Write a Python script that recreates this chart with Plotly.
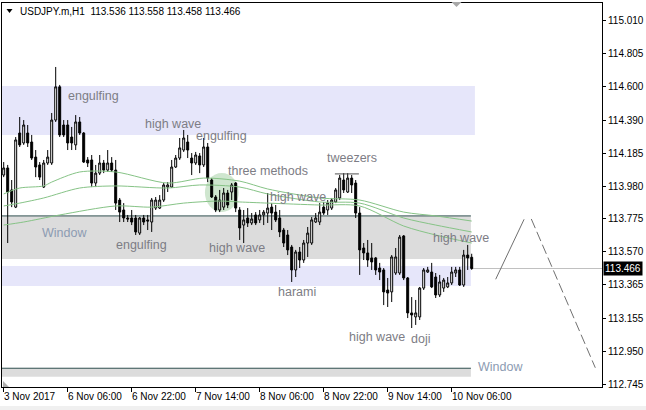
import plotly.graph_objects as go

# ---------------- data ----------------
symbol = "USDJPY.m,H1"

open_ = [114.049, 114.093, 113.956, 113.849, 114.311, 114.249, 114.311, 114.255, 114.161, 114.112,
         113.974, 114.124, 114.124, 114.392, 114.599, 114.361, 114.361, 114.286, 114.237, 114.380,
         114.311, 114.143, 114.143, 113.999, 114.061, 114.124, 114.080, 114.124, 114.080, 113.893,
         113.831, 113.781, 113.781, 113.781, 113.687, 113.781, 113.769, 113.756, 113.843, 113.843,
         113.893, 113.974, 113.974, 114.099, 114.155, 114.205, 114.255, 114.155, 114.124, 114.168,
         114.112, 114.224, 114.018, 113.912, 113.831, 113.849, 113.937, 113.943, 113.999, 113.831,
         113.737, 113.781, 113.750, 113.800, 113.769, 113.800, 113.812, 113.849, 113.818, 113.781,
         113.706, 113.675, 113.600, 113.457, 113.569, 113.519, 113.625, 113.625, 113.756, 113.756,
         113.849, 113.831, 113.843, 113.881, 113.906, 114.018, 113.943, 114.030, 113.999, 113.812,
         113.594, 113.563, 113.532, 113.532, 113.469, 113.457, 113.332, 113.320, 113.438, 113.438,
         113.669, 113.407, 113.189, 113.164, 113.164, 113.344, 113.444, 113.444, 113.413, 113.301,
         113.344, 113.351, 113.376, 113.438, 113.457, 113.363, 113.550, 113.536]
high = [114.130, 114.112, 114.018, 114.286, 114.411, 114.392, 114.361, 114.299, 114.205, 114.130,
        114.143, 114.205, 114.436, 114.723, 114.611, 114.392, 114.392, 114.349, 114.423, 114.411,
        114.317, 114.161, 114.174, 114.112, 114.174, 114.143, 114.205, 114.161, 114.143, 113.906,
        113.874, 113.800, 113.831, 113.800, 113.787, 113.800, 113.800, 113.906, 113.912, 113.924,
        113.999, 114.005, 114.143, 114.174, 114.280, 114.330, 114.299, 114.186, 114.193, 114.186,
        114.280, 114.249, 114.030, 113.924, 113.956, 113.968, 113.956, 113.999, 114.005, 113.849,
        113.831, 113.843, 113.812, 113.818, 113.831, 113.831, 113.937, 113.874, 113.862, 113.831,
        113.719, 113.706, 113.613, 113.582, 113.600, 113.644, 113.725, 113.787, 113.812, 113.874,
        113.881, 113.893, 113.906, 113.968, 114.049, 114.061, 114.061, 114.049, 114.018, 113.849,
        113.625, 113.644, 113.625, 113.538, 113.501, 113.469, 113.407, 113.550, 113.594, 113.675,
        113.675, 113.413, 113.288, 113.270, 113.351, 113.469, 113.476, 113.501, 113.438, 113.426,
        113.407, 113.413, 113.476, 113.476, 113.476, 113.582, 113.613, 113.558]
low = [114.036, 113.625, 113.849, 113.843, 114.224, 114.237, 114.224, 114.143, 114.036, 114.018,
       113.968, 114.112, 114.112, 114.380, 114.286, 114.286, 114.205, 114.205, 114.205, 114.299,
       114.124, 114.099, 113.974, 113.974, 114.049, 114.061, 114.068, 114.068, 113.831, 113.756,
       113.756, 113.756, 113.737, 113.675, 113.675, 113.737, 113.706, 113.694, 113.831, 113.837,
       113.881, 113.943, 113.968, 114.093, 114.143, 114.193, 114.155, 114.049, 114.112, 114.061,
       114.099, 114.005, 113.906, 113.818, 113.818, 113.831, 113.843, 113.893, 113.818, 113.644,
       113.625, 113.725, 113.737, 113.737, 113.750, 113.737, 113.750, 113.706, 113.756, 113.662,
       113.600, 113.550, 113.382, 113.413, 113.469, 113.501, 113.538, 113.613, 113.750, 113.737,
       113.800, 113.800, 113.831, 113.874, 113.893, 113.937, 113.937, 113.937, 113.781, 113.426,
       113.519, 113.476, 113.457, 113.426, 113.394, 113.238, 113.226, 113.257, 113.426, 113.426,
       113.394, 113.157, 113.095, 113.114, 113.145, 113.332, 113.438, 113.344, 113.282, 113.288,
       113.320, 113.344, 113.363, 113.413, 113.357, 113.351, 113.457, 113.458]
close = [114.093, 113.943, 113.881, 114.268, 114.237, 114.361, 114.249, 114.155, 114.099, 114.036,
         114.124, 114.161, 114.392, 114.599, 114.299, 114.299, 114.249, 114.249, 114.380, 114.311,
         114.130, 114.124, 113.999, 114.061, 114.124, 114.080, 114.124, 114.080, 113.874, 113.818,
         113.781, 113.775, 113.756, 113.694, 113.781, 113.756, 113.762, 113.893, 113.893, 113.893,
         113.987, 113.987, 114.099, 114.155, 114.218, 114.280, 114.205, 114.124, 114.174, 114.112,
         114.224, 114.030, 113.912, 113.831, 113.893, 113.937, 113.862, 113.987, 113.843, 113.719,
         113.769, 113.750, 113.775, 113.750, 113.800, 113.818, 113.843, 113.812, 113.769, 113.694,
         113.625, 113.582, 113.457, 113.569, 113.519, 113.625, 113.687, 113.769, 113.781, 113.818,
         113.812, 113.874, 113.893, 113.956, 114.030, 113.956, 114.030, 113.987, 113.812, 113.582,
         113.563, 113.519, 113.507, 113.457, 113.444, 113.320, 113.313, 113.538, 113.538, 113.662,
         113.407, 113.189, 113.176, 113.189, 113.344, 113.457, 113.457, 113.351, 113.301, 113.382,
         113.394, 113.376, 113.444, 113.457, 113.363, 113.550, 113.532, 113.466]
bar_index = list(range(len(open_)))

tick_bars = [0, 16, 32, 48, 64, 80, 96, 112]
tick_text = ["3 Nov 2017", "6 Nov 06:00", "6 Nov 22:00", "7 Nov 14:00",
             "8 Nov 06:00", "8 Nov 22:00", "9 Nov 14:00", "10 Nov 06:00"]
price_ticks = [115.010, 114.805, 114.600, 114.390, 114.185, 113.980,
               113.775, 113.570, 113.365, 113.155, 112.950, 112.745]

# moving-average lines (read at a few bars)
ma1_x = [0, 4, 10, 12, 19, 28, 41, 50, 59, 66, 79, 89, 100, 108, 117]
ma1_y = [113.931, 113.968, 113.981, 114.005, 114.068, 114.068, 113.999, 114.030, 114.011,
         113.962, 113.906, 113.893, 113.818, 113.794, 113.762]
ma2_x = [0, 4, 10, 19, 28, 41, 49, 59, 66, 79, 89, 100, 108, 117]
ma2_y = [113.856, 113.874, 113.906, 113.968, 113.981, 113.968, 113.987, 113.974, 113.931,
         113.881, 113.874, 113.781, 113.737, 113.694]
ma3_x = [0, 5, 14, 28, 37, 45, 54, 59, 66, 79, 89, 100, 108, 117]
ma3_y = [113.737, 113.756, 113.800, 113.856, 113.849, 113.874, 113.887, 113.881, 113.874,
         113.862, 113.856, 113.731, 113.675, 113.625]

# zigzag projection
zz1_x = [123.0, 130.1]
zz1_y = [113.399, 113.773]
zz2_x = [131.9, 147.9]
zz2_y = [113.775, 112.847]

# zones: (x0, x1, y0, y1)
zone_upper = (-5, 117.8, 114.299, 114.605)
zone_window1 = (-5, 116.8, 113.525, 113.794)
zone_lower = (-5, 116.8, 113.357, 113.482)
zone_window2 = (-5, 116.8, 112.791, 112.844)
circle_three = (50.3, 58.75, 113.818, 114.061)
tweezers_line = (82.8, 88.8, 114.056)
current_price = close[-1]

# pattern labels: text, bar position, price
pattern_text = ["engulfing", "high wave", "engulfing", "three methods", "high wave", "tweezers",
                "engulfing", "high wave", "harami", "high wave", "high wave", "doji"]
pattern_x = [15.6, 34.8, 47.6, 55.6, 66.1, 80.3, 27.6, 50.8, 68.1, 106.8, 85.8, 101.3]
pattern_y = [114.542, 114.367, 114.293, 114.074, 113.912, 114.155, 113.613, 113.594,
             113.320, 113.656, 113.039, 113.026]
window_text = ["Window", "Window"]
window_x = [9.1, 118.1]
window_y = [113.688, 112.852]

# ---------------- figure ----------------
FONT = "Liberation Sans, Arial, sans-serif"
L, R, T, B = 2, 44, 3, 23
W, H = 646, 410
PW, PH = W - L - R, H - T - B


def P(px, py):
    return (px - L) / PW, (H - B - py) / PH


fig = go.Figure()

for mx, my in [(ma1_x, ma1_y), (ma2_x, ma2_y), (ma3_x, ma3_y)]:
    fig.add_trace(go.Scatter(x=mx, y=my, mode="lines",
                             line=dict(color="#86c386", width=1, shape="spline", smoothing=0.8),
                             hoverinfo="skip"))

fig.add_trace(go.Candlestick(
    x=bar_index, open=open_, high=high, low=low, close=close,
    increasing=dict(line=dict(color="black", width=1), fillcolor="white"),
    decreasing=dict(line=dict(color="black", width=1), fillcolor="black"),
    whiskerwidth=0, hoverinfo="skip"))

fig.add_trace(go.Scatter(x=zz1_x, y=zz1_y, mode="lines",
                         line=dict(color="#707070", width=1), hoverinfo="skip"))
fig.add_trace(go.Scatter(x=zz2_x, y=zz2_y, mode="lines",
                         line=dict(color="#707070", width=1, dash="10px,4px"), hoverinfo="skip"))

shapes = []
for (x0, x1, y0, y1), col in [(zone_upper, "#E6E6FA"), (zone_window1, "#DCDCDC"),
                              (zone_lower, "#E6E6FA"), (zone_window2, "#DCDCDC")]:
    shapes.append(dict(type="rect", xref="x", yref="y", x0=x0, x1=x1, y0=y0, y1=y1,
                       fillcolor=col, line=dict(width=0), layer="below"))
for z in (zone_window1, zone_window2):
    shapes.append(dict(type="line", xref="x", yref="y", x0=z[0], x1=z[1], y0=z[3], y1=z[3],
                       line=dict(color="#2F4F4F", width=1), layer="below"))
c = circle_three
shapes.append(dict(type="circle", xref="x", yref="y", x0=c[0], x1=c[1], y0=c[2], y1=c[3],
                   fillcolor="#cfe6cf", line=dict(width=0), layer="below"))
shapes.append(dict(type="line", xref="paper", yref="y", x0=0, x1=1, y0=current_price, y1=current_price,
                   line=dict(color="#C0C0C0", width=1), layer="below"))
shapes.append(dict(type="line", xref="x", yref="y", x0=tweezers_line[0], x1=tweezers_line[1],
                   y0=tweezers_line[2], y1=tweezers_line[2], line=dict(color="#505050", width=1)))


def tri(pts, color):
    d = "M " + " L ".join("%.5f %.5f" % P(a, b) for a, b in pts) + " Z"
    return dict(type="path", xref="paper", yref="paper", path=d, fillcolor=color,
                line=dict(width=0))


shapes.append(tri([(6.5, 9), (12.5, 9), (9.5, 13)], "black"))
shapes.append(tri([(451.5, 2), (461.5, 2), (456.5, 7)], "#a8a8a8"))
shapes.append(tri([(3, 381), (3, 387), (9, 387)], "#b0b0b0"))
# window-frame strip at the bottom
shapes.append(dict(type="rect", xref="paper", yref="paper",
                   x0=-L / PW, x1=(W - L) / PW, y0=P(0, 406)[1], y1=P(0, 411)[1],
                   fillcolor="#f0f0f0", line=dict(width=0)))

ann = []
for t, x, y in zip(pattern_text, pattern_x, pattern_y):
    ann.append(dict(x=x, y=y, xref="x", yref="y", text=t, showarrow=False, xanchor="left",
                    yanchor="middle", font=dict(family=FONT, size=12.5, color="#7d7d85")))
for t, x, y in zip(window_text, window_x, window_y):
    ann.append(dict(x=x, y=y, xref="x", yref="y", text=t, showarrow=False, xanchor="left",
                    yanchor="middle", font=dict(family=FONT, size=12.5, color="#8c9bb2")))
for tb, tt in zip(tick_bars, tick_text):
    ann.append(dict(x=tb, y=P(0, 396)[1], xref="x", yref="paper", text=tt, showarrow=False,
                    xanchor="left", yanchor="middle", xshift=-2,
                    font=dict(family=FONT, size=10, color="black")))
header = "%s  %.3f %.3f %.3f %.3f" % (symbol, open_[-1], high[-1], low[-1], close[-1])
ann.append(dict(x=P(18, 0)[0], y=P(0, 11)[1], xref="paper", yref="paper", text=header,
                showarrow=False, xanchor="left", yanchor="middle",
                font=dict(family=FONT, size=10, color="black")))
ann.append(dict(x=1, y=current_price, xref="paper", yref="y", text="%.3f" % current_price,
                showarrow=False, xanchor="left", yanchor="middle", xshift=1,
                bgcolor="black", borderpad=1,
                font=dict(family=FONT, size=10, color="white")))

fig.update_layout(
    width=W, height=H, margin=dict(l=L, r=R, t=T, b=B, autoexpand=False),
    paper_bgcolor="white", plot_bgcolor="white", showlegend=False,
    hovermode=False, shapes=shapes, annotations=ann,
    xaxis=dict(range=[-0.425, 149.575], showgrid=False, zeroline=False,
               showline=True, mirror=True, linecolor="black", linewidth=1,
               ticks="outside", ticklen=4, tickcolor="black", tickvals=tick_bars,
               showticklabels=False, rangeslider=dict(visible=False), automargin=False),
    yaxis=dict(range=[112.727, 115.122], side="right", showgrid=False, zeroline=False,
               showline=True, mirror=True, linecolor="black", linewidth=1,
               ticks="outside", ticklen=3, tickcolor="black", tickvals=price_ticks,
               ticktext=["%.3f" % v for v in price_ticks], automargin=False,
               tickfont=dict(family=FONT, size=10, color="black")),
)

fig.write_html("out.html", config={"displayModeBar": False},
               post_script="document.body.style.margin='0';document.body.style.padding='0';")
